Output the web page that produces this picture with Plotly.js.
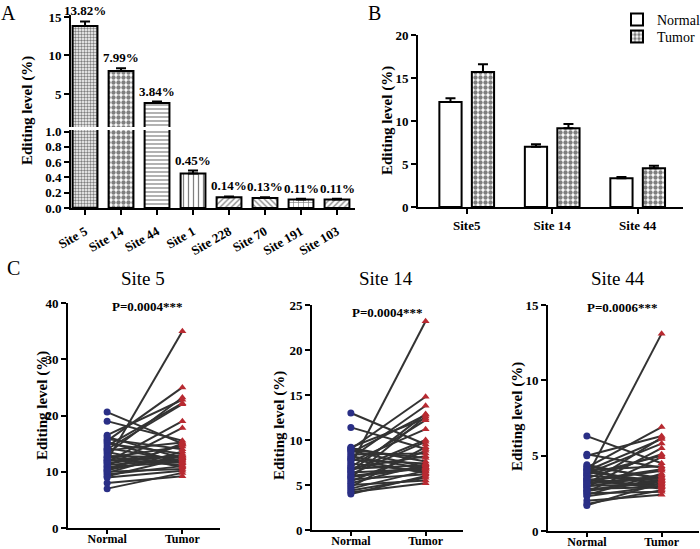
<!DOCTYPE html>
<html>
<head>
<meta charset="utf-8">
<script src="https://cdn.plot.ly/plotly-3.0.1.min.js"></script>
<style>
  body { margin: 0; background: white; }
  #chart { width: 700px; height: 549px; }
</style>
</head>
<body>
<div id="chart"></div>
<script>
// Panel A data
const siteNames = ['Site 5', 'Site 14', 'Site 44', 'Site 1', 'Site 228', 'Site 70', 'Site 191', 'Site 103'];
const siteLevels = [13.82, 7.99, 3.84, 0.45, 0.14, 0.13, 0.11, 0.11];
const siteErrors = [0.6, 0.35, 0.18, 0.04, 0.012, 0.012, 0.01, 0.01];
const siteLabels = ['13.82%', '7.99%', '3.84%', '0.45%', '0.14%', '0.13%', '0.11%', '0.11%'];

// Panel B data
const groupSites = ['Site5', 'Site 14', 'Site 44'];
const normalMeans = [12.2, 7.0, 3.35];
const normalErrors = [0.45, 0.3, 0.15];
const tumorMeans = [15.7, 9.15, 4.5];
const tumorErrors = [0.9, 0.5, 0.3];

// Panel C data (paired samples)
const normal5 = [20.6, 19.0, 16.5, 16.2, 15.8, 15.5, 15.3, 15.0, 14.6, 14.2, 13.8, 13.5, 13.2, 12.8, 12.5, 12.2, 12.0, 11.7,
  11.5, 11.2, 11.0, 10.8, 10.5, 10.3, 10.0, 9.8, 9.5, 9.2, 9.0, 8.0, 7.0, 10.2, 11.9, 12.6, 14.0];
const tumor5 = [15.0, 15.5, 22.8, 12.4, 14.0, 25.0, 11.5, 13.2, 22.2, 12.0, 15.2, 10.8, 23.2, 12.6, 14.5, 11.2, 35.0, 19.0,
  13.0, 12.2, 17.8, 11.8, 14.8, 12.8, 10.5, 13.6, 11.0, 12.4, 10.2, 9.2, 9.8, 15.0, 12.9, 11.6, 22.0];
const normal14 = [13.0, 11.4, 9.2, 9.0, 8.8, 8.6, 8.4, 8.2, 8.0, 7.8, 7.6, 7.4, 7.2, 7.0, 6.8, 6.6, 6.4, 6.2,
  6.0, 5.8, 5.6, 5.4, 5.2, 5.0, 4.8, 4.6, 4.4, 4.2, 4.0, 9.1, 6.9, 5.9, 6.5, 7.9, 8.9];
const tumor14 = [9.5, 9.0, 12.4, 14.8, 7.0, 12.8, 8.5, 6.8, 13.8, 7.4, 11.2, 6.5, 23.2, 12.2, 7.2, 10.0, 6.8, 9.8,
  7.0, 12.6, 6.2, 8.8, 7.3, 5.5, 9.2, 6.6, 5.8, 5.2, 6.0, 7.6, 8.2, 6.9, 12.9, 6.3, 8.0];
const normal44 = [6.3, 5.1, 5.0, 4.3, 4.2, 4.1, 4.0, 3.9, 3.8, 3.7, 3.6, 3.5, 3.4, 3.3, 3.2, 3.1, 3.0, 2.9,
  2.8, 2.7, 2.6, 2.5, 2.4, 2.3, 2.0, 1.8, 1.7, 3.35, 2.95, 4.4, 3.75, 2.65, 3.45, 4.05, 3.15];
const tumor44 = [4.5, 4.2, 6.3, 3.5, 6.9, 3.0, 6.1, 3.3, 5.8, 3.2, 13.1, 5.1, 2.8, 4.0, 3.6, 6.2, 3.1, 5.5,
  2.9, 3.4, 4.9, 2.6, 3.8, 3.0, 2.4, 2.7, 3.2, 4.1, 3.7, 3.4, 5.0, 3.3, 2.9, 4.3, 3.5];
const pairGroups = ['Normal', 'Tumor'];

const W = 700, H = 549;
const serif = 'Liberation Serif';
const blue = '#2a2f86';
const red = '#b82a31';

function px(x) { return x / W; }
function py(y) { return 1 - y / H; }

function axisStyle(extra) {
    return Object.assign({
        showline: true,
        linecolor: 'black',
        linewidth: 2,
        ticks: 'outside',
        ticklen: 5,
        tickwidth: 2,
        tickcolor: 'black',
        showgrid: false,
        zeroline: false,
        fixedrange: true,
        tickfont: { family: serif, size: 13, color: 'black', weight: 'bold' }
    }, extra);
}

// Panel A bars: the same bars go in both halves of the broken axis
const patternA = {
    shape: ['.', '.', '-', '|', '/', '\\', '+', '/'],
    size: [3, 5, 4, 5, 4, 4, 5, 4],
    solidity: [0.5, 0.6, 0.3, 0.25, 0.3, 0.3, 0.25, 0.3],
    fgcolor: 'black',
    bgcolor: 'white',
    fillmode: 'overlay'
};
function barsA(yaxis) {
    return {
        type: 'bar',
        x: siteNames,
        y: siteLevels,
        xaxis: 'x',
        yaxis: yaxis,
        width: 0.69,
        marker: { color: 'white', line: { color: 'black', width: 2 }, pattern: patternA },
        error_y: {
            type: 'data', symmetric: false, array: siteErrors,
            arrayminus: siteErrors.map(() => 0), color: 'black', thickness: 2, width: 5
        },
        showlegend: false,
        hoverinfo: 'skip'
    };
}
// value labels above the bars of panel A
const labelNotes = siteLevels.map((v, i) => ({
    text: siteLabels[i],
    x: siteNames[i],
    y: v + siteErrors[i],
    xref: 'x',
    yref: v > 1 ? 'y2' : 'y',
    xanchor: 'center',
    yanchor: 'bottom',
    yshift: 1,
    showarrow: false,
    font: { family: serif, size: 13, color: 'black', weight: 'bold' }
}));

// Panel B bars, each in its own legend box
const normalBars = {
    type: 'bar', name: 'Normal', x: groupSites, y: normalMeans, legend: 'legend',
    xaxis: 'x2', yaxis: 'y3', width: 0.26, offset: -0.32,
    marker: { color: 'white', line: { color: 'black', width: 2 } },
    error_y: { type: 'data', symmetric: false, array: normalErrors, arrayminus: normalErrors.map(() => 0), color: 'black', thickness: 2, width: 5 }
};
const tumorBars = {
    type: 'bar', name: 'Tumor', x: groupSites, y: tumorMeans, legend: 'legend2',
    xaxis: 'x2', yaxis: 'y3', width: 0.26, offset: 0.06,
    marker: {
        color: 'white', line: { color: 'black', width: 2 },
        pattern: { shape: '.', size: 5, solidity: 0.6, fgcolor: 'black', bgcolor: 'white', fillmode: 'overlay' }
    },
    error_y: { type: 'data', symmetric: false, array: tumorErrors, arrayminus: tumorErrors.map(() => 0), color: 'black', thickness: 2, width: 5 }
};

// Panel C paired plots
function pairedTraces(normal, tumor, xa, ya) {
    const xs = [], ys = [];
    normal.forEach((n, i) => {
        xs.push(pairGroups[0], pairGroups[1], null);
        ys.push(n, tumor[i], null);
    });
    return [
        { type: 'scatter', mode: 'lines', x: xs, y: ys, xaxis: xa, yaxis: ya,
          line: { color: '#333333', width: 2 }, showlegend: false, hoverinfo: 'skip' },
        { type: 'scatter', mode: 'markers', x: normal.map(() => pairGroups[0]), y: normal, xaxis: xa, yaxis: ya,
          marker: { symbol: 'circle', size: 7, color: blue }, showlegend: false, cliponaxis: false },
        { type: 'scatter', mode: 'markers', x: tumor.map(() => pairGroups[1]), y: tumor, xaxis: xa, yaxis: ya,
          marker: { symbol: 'triangle-up', size: 7, color: red }, showlegend: false, cliponaxis: false }
    ];
}

const data = [
    barsA('y'), barsA('y2'),
    normalBars, tumorBars,
    ...pairedTraces(normal5, tumor5, 'x3', 'y4'),
    ...pairedTraces(normal14, tumor14, 'x4', 'y5'),
    ...pairedTraces(normal44, tumor44, 'x5', 'y6')
];

function note(text, x, y, size, extra) {
    return Object.assign({
        text: text, x: px(x), y: py(y), xref: 'paper', yref: 'paper',
        showarrow: false, xanchor: 'center', yanchor: 'middle',
        font: { family: serif, size: size, color: 'black' }
    }, extra);
}
function yTitle(x, y) {
    return note('Editing level (%)', x, y, 15, {
        textangle: -90, font: { family: serif, size: 15, color: 'black', weight: 'bold' }
    });
}
function pNote(text, x, y) {
    return note(text, x, y, 13, { font: { family: serif, size: 13, color: 'black', weight: 'bold' } });
}
function legendBox(y) {
    return {
        x: px(617), y: py(y), xanchor: 'left', yanchor: 'middle',
        font: { family: serif, size: 14, color: 'black' },
        bgcolor: 'rgba(0,0,0,0)', borderwidth: 0
    };
}

const catC = {
    type: 'category', categoryarray: pairGroups, range: [-0.52, 1.5], ticklen: 4, ticklabelstandoff: -5,
    tickfont: { family: serif, size: 12, color: 'black', weight: 'bold' }
};

const layout = {
    width: W,
    height: H,
    margin: { l: 0, r: 0, t: 0, b: 0, autoexpand: false },
    paper_bgcolor: 'white',
    plot_bgcolor: 'white',
    barmode: 'group',
    font: { family: serif, color: 'black' },
    showlegend: true,
    legend: legendBox(20),
    legend2: legendBox(37),
    // Panel A
    xaxis: axisStyle({ domain: [px(71), px(355)], anchor: 'y', type: 'category', range: [-0.39, 7.5], tickangle: -30, ticklabelstandoff: 4 }),
    yaxis: axisStyle({ domain: [py(208), py(130)], anchor: 'x', range: [0, 1.02], tickvals: [0, 0.2, 0.4, 0.6, 0.8, 1.0], tickformat: '.1f' }),
    yaxis2: axisStyle({ domain: [py(127), py(15)], anchor: 'x', range: [0.71, 15.26], tickvals: [5, 10, 15] }),
    // Panel B
    xaxis2: axisStyle({ domain: [px(418), px(683)], anchor: 'y3', type: 'category', range: [-0.57, 2.53] }),
    yaxis3: axisStyle({ domain: [py(207), py(35)], anchor: 'x2', range: [0, 20], tickvals: [0, 5, 10, 15, 20] }),
    // Panel C
    xaxis3: axisStyle(Object.assign({ domain: [px(68), px(220)], anchor: 'y4' }, catC)),
    yaxis4: axisStyle({ domain: [py(528), py(303)], anchor: 'x3', range: [0, 40], tickvals: [0, 10, 20, 30, 40] }),
    xaxis4: axisStyle(Object.assign({ domain: [px(312), px(463)], anchor: 'y5' }, catC)),
    yaxis5: axisStyle({ domain: [py(530), py(305)], anchor: 'x4', range: [0, 25], tickvals: [0, 5, 10, 15, 20, 25] }),
    xaxis5: axisStyle(Object.assign({ domain: [px(548), px(699)], anchor: 'y6' }, catC)),
    yaxis6: axisStyle({ domain: [py(531), py(305)], anchor: 'x5', range: [0, 15], tickvals: [0, 5, 10, 15] }),
    annotations: [
        note('A', 8, 13, 20),
        note('B', 374, 13, 20),
        note('C', 13, 268, 20),
        yTitle(27, 111),
        yTitle(388, 121),
        yTitle(42, 406),
        yTitle(279, 426),
        yTitle(517, 417),
        note('Site 5', 143, 278, 19),
        note('Site 14', 386, 278, 19),
        note('Site 44', 618, 278, 19),
        pNote('P=0.0004***', 147, 306),
        pNote('P=0.0004***', 387, 312),
        pNote('P=0.0006***', 622, 307),
        ...labelNotes
    ]
};

Plotly.newPlot('chart', data, layout, { displayModeBar: false, staticPlot: true });
</script>
</body>
</html>
